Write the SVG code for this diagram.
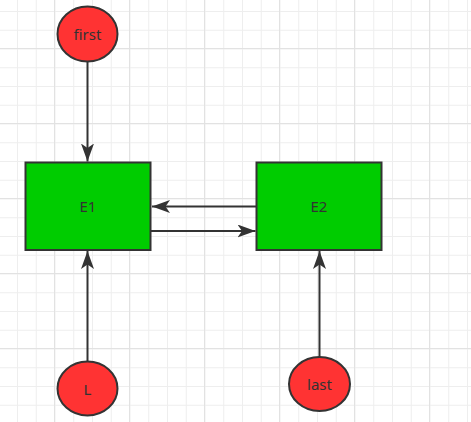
<svg xmlns="http://www.w3.org/2000/svg" width="471" height="422" viewBox="0 0 471 422">
<style>
.node{stroke:#333;stroke-width:2}
.circ{fill:#ff3333}
.box{fill:#00cc00}
.lbl{font-family:"Noto Sans","Liberation Sans",sans-serif;font-size:15px;fill:#333;text-anchor:middle;dominant-baseline:central}
.edge{stroke:#333;stroke-width:2;fill:none;marker-end:url(#ah)}
</style>
<defs>
<pattern id="minor" width="18.75" height="18.75" patternUnits="userSpaceOnUse" x="-1.75" y="-7.75">
<path d="M0.5 0V18.75M0 0.5H18.75" stroke="#eeeeee" stroke-width="1" fill="none"/>
</pattern>
<pattern id="major" width="75" height="75" patternUnits="userSpaceOnUse" x="54" y="48">
<path d="M0.5 0V75M0 0.5H75" stroke="#e2e2e2" stroke-width="1" fill="none"/>
</pattern>
<marker id="ah" markerWidth="19" markerHeight="14" refX="18" refY="6.5" orient="auto" markerUnits="userSpaceOnUse">
<path d="M0 0L18 6.5L0 13L4.5 6.5Z" fill="#333"/>
</marker>
</defs>
<rect width="471" height="422" fill="#fff"/>
<rect width="471" height="422" fill="url(#minor)"/>
<rect width="471" height="422" fill="url(#major)"/>
<g id="connectors">
<line class="edge" x1="87.5" y1="62" x2="87.5" y2="161.5"/>
<line class="edge" x1="256" y1="206.5" x2="152" y2="206.5"/>
<line class="edge" x1="151" y1="231" x2="255.5" y2="231"/>
<line class="edge" x1="87.5" y1="361" x2="87.5" y2="251"/>
<line class="edge" x1="319.5" y1="357" x2="319.5" y2="251"/>
</g>
<g id="first"><ellipse class="node circ" cx="87.5" cy="34" rx="30" ry="27.5"/><text class="lbl" x="87.5" y="34">first</text></g>
<g id="E1"><rect class="node box" x="25.5" y="162.5" width="125" height="87.5"/><text class="lbl" x="88" y="206">E1</text></g>
<g id="E2"><rect class="node box" x="256.5" y="162.5" width="125" height="87.5"/><text class="lbl" x="319" y="206">E2</text></g>
<g id="L"><ellipse class="node circ" cx="87.5" cy="388.5" rx="30" ry="27"/><text class="lbl" x="87.5" y="388.5">L</text></g>
<g id="last"><ellipse class="node circ" cx="319.5" cy="384" rx="30.5" ry="27"/><text class="lbl" x="319.5" y="384">last</text></g>
</svg>
